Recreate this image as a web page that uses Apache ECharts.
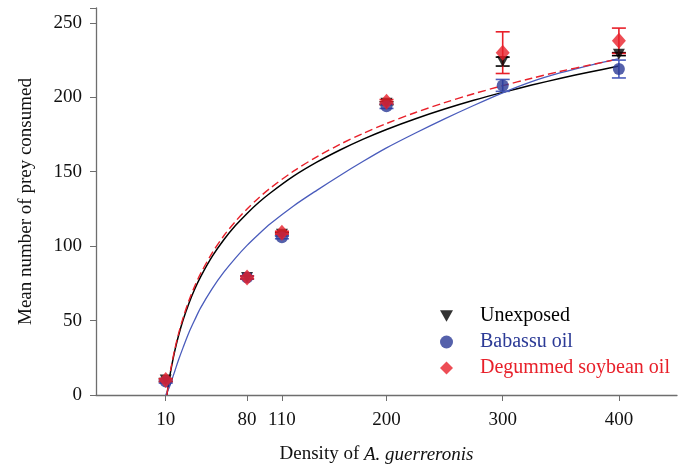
<!DOCTYPE html>
<html>
<head>
<meta charset="utf-8">
<script src="https://cdn.jsdelivr.net/npm/echarts@6/dist/echarts.min.js"></script>
<style>
  html, body { margin: 0; padding: 0; background: #fff; }
  #chartArea { width: 686px; height: 475px; }
</style>
</head>
<body>
<div id="chartArea"></div>
<script>
// densities and means
let densities = [10, 80, 110, 200, 300, 400];
let unexposedMean = [10, 79, 108, 196, 224, 229];
let unexposedErr = [1, 1, 1, 1, 3, 1];
let babassuMean = [9, 79, 106, 194, 208, 219];
let babassuErr = [1, 1, 1, 1.5, 4, 6];
let soybeanMean = [10, 79, 109, 197, 230, 238];
let soybeanErr = [1, 1, 1, 1.5, 14, 8.5];

// fitted curves
let fitX = [11, 13, 15, 18, 21, 25, 30, 35, 40, 50, 60, 70, 80, 90, 100, 120, 140, 160, 180, 200, 225, 250, 275, 300, 325, 350, 375, 400];
let unexposedFit = [0, 10.3, 19.1, 30.3, 39.8, 50.5, 61.7, 71.2, 79.4, 93.1, 104.3, 113.8, 122, 129.3, 135.7, 147, 156.4, 164.6, 171.9, 178.4, 185.6, 192.1, 198, 203.3, 208.2, 212.8, 217, 221];
let soybeanFit = [0, 11, 20, 31.4, 41.1, 52, 63.5, 73.2, 81.6, 95.5, 107, 116.6, 125, 132.4, 139, 150.4, 160, 168.4, 175.8, 182.4, 189.8, 196.4, 202.4, 207.8, 212.8, 217.5, 221.7, 225.8];
let babassuFitX = [10, 13, 15, 18, 21, 25, 30, 35, 40, 50, 60, 70, 80, 90, 100, 120, 140, 160, 180, 200, 225, 250, 275, 300, 325, 350, 375, 400];
let babassuFit = [0, 5, 9.5, 16.5, 23.5, 32, 42, 50.5, 58.5, 71.5, 82.5, 92, 100.5, 108, 115, 127, 137.5, 147.5, 157, 166, 176, 185.5, 194.5, 203, 210.5, 216.5, 221.5, 226];

let xTicks = [10, 80, 110, 200, 300, 400];

let black = '#000000';
let blueMark = '#2b3a96';
let blueLine = '#4a5cbc';
let red = '#e8202a';
let downTri = 'path://M0,0 L10,0 L5,9 Z';
let fontFam = '"Liberation Serif", "Times New Roman", serif';

function pairs(xs, ys) {
    let out = [];
    for (let i = 0; i < xs.length; i++) {
        out.push([xs[i], ys[i]]);
    }
    return out;
}

function errData(means, errs) {
    let out = [];
    for (let i = 0; i < densities.length; i++) {
        out.push([densities[i], means[i] - errs[i], means[i] + errs[i]]);
    }
    return out;
}

function errSeries(means, errs, color) {
    return {
        type: 'custom',
        data: errData(means, errs),
        silent: true,
        z: 3,
        renderItem: function (params, api) {
            let x = api.value(0);
            let lo = api.coord([x, api.value(1)]);
            let hi = api.coord([x, api.value(2)]);
            let w = 7;
            let style = {stroke: color, lineWidth: 1.6};
            return {
                type: 'group',
                children: [
                    {type: 'line', shape: {x1: lo[0], y1: lo[1], x2: hi[0], y2: hi[1]}, style: style},
                    {type: 'line', shape: {x1: lo[0] - w, y1: lo[1], x2: lo[0] + w, y2: lo[1]}, style: style},
                    {type: 'line', shape: {x1: hi[0] - w, y1: hi[1], x2: hi[0] + w, y2: hi[1]}, style: style}
                ]
            };
        }
    };
}

let myChart = echarts.init(document.getElementById('chartArea'));

let option = {
    animation: false,
    backgroundColor: '#ffffff',
    textStyle: {fontFamily: fontFam},
    grid: {left: 96, right: 9, top: 8, bottom: 80},
    legend: {
        orient: 'vertical',
        left: 435,
        top: 301,
        itemWidth: 13,
        itemHeight: 13,
        itemGap: 6,
        textStyle: {fontFamily: fontFam, fontSize: 20, padding: [0, 0, 0, 22]},
        data: [
            {name: 'Unexposed', icon: downTri, textStyle: {color: black}},
            {name: 'Babassu oil', icon: 'circle', textStyle: {color: blueMark}},
            {name: 'Degummed soybean oil', icon: 'diamond', textStyle: {color: red}}
        ]
    },
    xAxis: {
        type: 'value',
        min: -50,
        max: 450,
        splitLine: {show: false},
        axisLine: {onZero: false, lineStyle: {color: '#6e6e6e', width: 1.3}},
        axisTick: {show: true, length: 6, lineStyle: {color: '#6e6e6e'}, customValues: xTicks},
        axisLabel: {color: '#111', fontSize: 19, margin: 16, fontFamily: fontFam, customValues: xTicks},
        name: '{n|Density of }{i|A. guerreronis}',
        nameLocation: 'middle',
        nameGap: 50,
        nameTextStyle: {
            padding: [0, 20, 0, 0],
            rich: {
                n: {fontSize: 19, fontFamily: fontFam, color: '#111'},
                i: {fontSize: 19, fontFamily: fontFam, color: '#111', fontStyle: 'italic'}
            }
        }
    },
    yAxis: {
        type: 'value',
        min: 0,
        max: 260,
        interval: 50,
        splitLine: {show: false},
        axisLine: {show: true, onZero: false, lineStyle: {color: '#6e6e6e', width: 1.3}},
        axisTick: {show: true, length: 6, lineStyle: {color: '#6e6e6e'}},
        axisLabel: {color: '#111', fontSize: 19, margin: 14, fontFamily: fontFam,
            formatter: function (v) { return v % 50 === 0 ? v : ''; }},
        name: 'Mean number of prey consumed',
        nameLocation: 'middle',
        nameGap: 60,
        nameTextStyle: {fontSize: 19, fontFamily: fontFam, color: '#111'}
    },
    series: [
        {
            name: 'fitUnexposed', type: 'line', data: pairs(fitX, unexposedFit),
            smooth: 0.3, showSymbol: false, silent: true, z: 2,
            lineStyle: {color: black, width: 1.5}
        },
        {
            name: 'fitBabassu', type: 'line', data: pairs(babassuFitX, babassuFit),
            smooth: 0.3, showSymbol: false, silent: true, z: 2,
            lineStyle: {color: blueLine, width: 1.3}
        },
        {
            name: 'fitSoybean', type: 'line', data: pairs(fitX, soybeanFit),
            smooth: 0.3, showSymbol: false, silent: true, z: 2,
            lineStyle: {color: red, width: 1.4, type: [8, 4]}
        },
        errSeries(unexposedMean, unexposedErr, black),
        errSeries(babassuMean, babassuErr, blueLine),
        errSeries(soybeanMean, soybeanErr, red),
        {
            name: 'Unexposed', type: 'scatter', data: pairs(densities, unexposedMean),
            symbol: downTri, symbolSize: [12, 11], z: 4,
            itemStyle: {color: black}
        },
        {
            name: 'Babassu oil', type: 'scatter', data: pairs(densities, babassuMean),
            symbol: 'circle', symbolSize: 12, z: 4,
            itemStyle: {color: blueMark}
        },
        {
            name: 'Degummed soybean oil', type: 'scatter', data: pairs(densities, soybeanMean),
            symbol: 'diamond', symbolSize: [14, 16], z: 5,
            itemStyle: {color: red}
        }
    ]
};

myChart.setOption(option);
</script>
</body>
</html>
